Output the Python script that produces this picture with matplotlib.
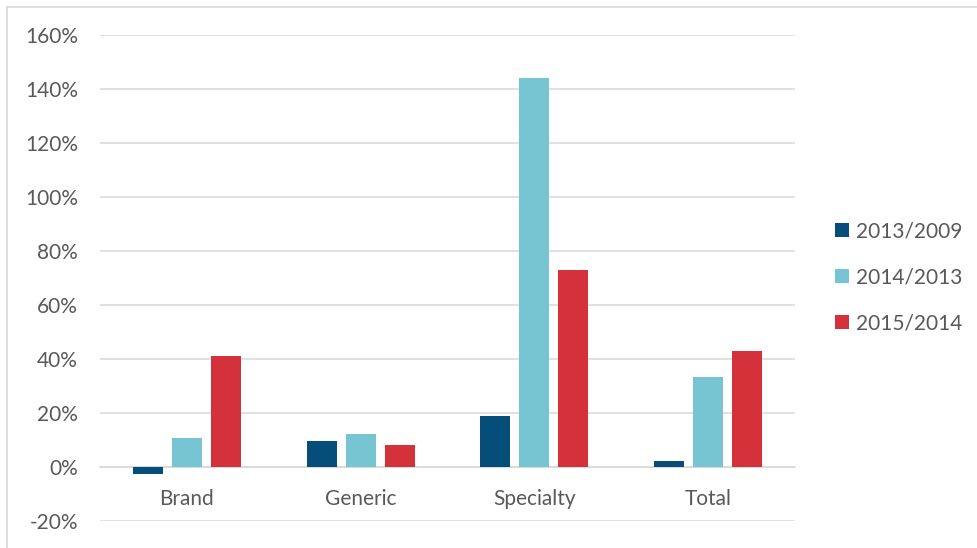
import numpy as np
import matplotlib.pyplot as plt
from matplotlib.lines import Line2D
from matplotlib.ticker import PercentFormatter

categories = ['Brand', 'Generic', 'Specialty', 'Total']
series_names = ['2013/2009', '2014/2013', '2015/2014']
g_2013_2009 = [-2.7, 9.6, 18.9, 2.1]
g_2014_2013 = [10.9, 12.2, 144.1, 33.4]
g_2015_2014 = [41.1, 8.1, 73.0, 43.0]
colors = ['#064E7A', '#77C4D3', '#D4313A']

plt.rcParams['font.family'] = ['Lato', 'DejaVu Sans']
plt.rcParams['axes.unicode_minus'] = False
text_color = '#595959'
grid_color = '#D9D9D9'
fs = 15

fig = plt.figure(figsize=(9.77, 5.48), dpi=100)
ax = fig.add_axes([100 / 977, 1 - 521 / 548, 695 / 977, 486 / 548])

x = np.arange(len(categories))
width = 0.173
offset = 0.224
for i, (vals, name) in enumerate(zip([g_2013_2009, g_2014_2013, g_2015_2014], series_names)):
    ax.bar(x + (i - 1) * offset, vals, width, color=colors[i], label=name, zorder=3)

ax.set_xlim(-0.5, len(categories) - 0.5)
ax.set_ylim(-20, 160)
ax.set_yticks(np.arange(-20, 161, 20))
ax.yaxis.set_major_formatter(PercentFormatter(decimals=0))
ax.set_xticks(x)
ax.set_xticklabels(categories)

ax.grid(axis='y', color=grid_color, linewidth=1.1, zorder=0)
for s in ['top', 'right', 'left']:
    ax.spines[s].set_visible(False)
ax.spines['bottom'].set_position(('data', 0))
ax.spines['bottom'].set_color(grid_color)
ax.spines['bottom'].set_linewidth(1.1)
ax.spines['bottom'].set_zorder(2)
ax.tick_params(axis='y', length=0, pad=16, labelsize=fs, labelcolor=text_color)
ax.tick_params(axis='x', length=0, pad=16, labelsize=fs, labelcolor=text_color)

leg = ax.legend(loc='center left', bbox_to_anchor=(835 / 977, 1 - 277.5 / 548),
                bbox_transform=fig.transFigure, frameon=False, fontsize=fs,
                handlelength=0.68, handleheight=0.68, handletextpad=0.34,
                labelspacing=1.25, borderpad=0, borderaxespad=0)
for t in leg.get_texts():
    t.set_color(text_color)

# outer chart border (top and left edges visible)
fig.add_artist(Line2D([7 / 977, 7 / 977], [0, 1 - 6.5 / 548], transform=fig.transFigure,
                      color='#D9D9D9', linewidth=1.2))
fig.add_artist(Line2D([7 / 977, 1], [1 - 6.5 / 548, 1 - 6.5 / 548], transform=fig.transFigure,
                      color='#D9D9D9', linewidth=1.2))

fig.savefig('out.png', dpi=100)
